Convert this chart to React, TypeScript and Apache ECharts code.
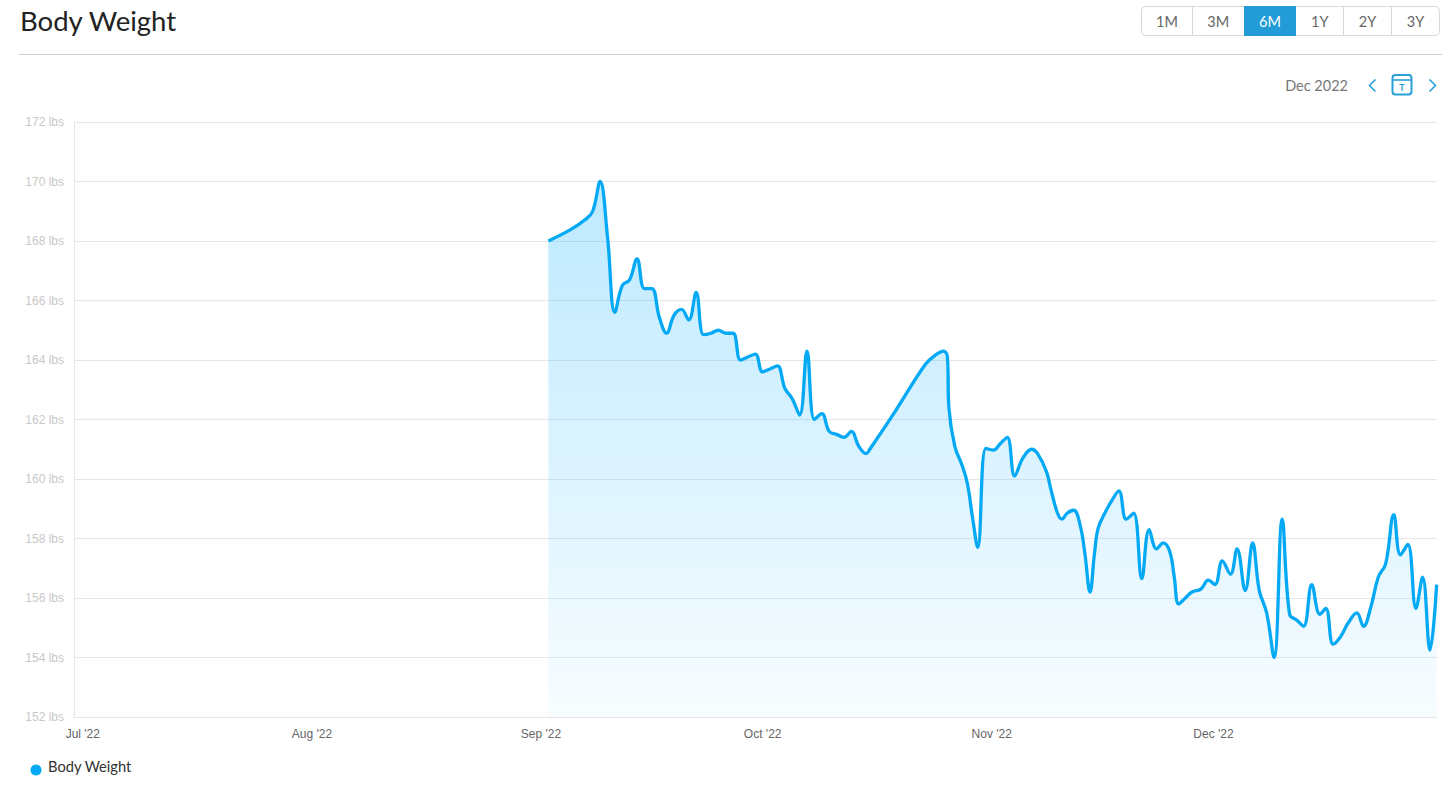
import React, { useEffect, useRef } from "react";
import * as echarts from "echarts";

const seriesName = "Body Weight";
const rangeButtons = ["1M", "3M", "6M", "1Y", "2Y", "3Y"];
const monthTickDays = [0, 31, 62, 92, 123, 153];
const monthLabels = ["Jul '22", "Aug '22", "Sep '22", "Oct '22", "Nov '22", "Dec '22"];

// days since 1 Jul 2022
const dayOffsets = [
  63, 66, 68, 69, 70, 71, 72, 73, 74, 75, 76, 77, 78, 79, 80, 81, 82, 83, 84, 85, 86, 87, 88, 89, 90, 91,
  92, 93, 94, 95, 96, 97, 98, 99, 100, 101, 102, 103, 104, 105, 106, 106.5, 110, 114, 115.4, 116.5, 117, 117.2,
  118, 119, 119.7, 120.4, 121.1, 122.2, 123.2, 124.2, 125.1, 126.1, 127.2, 128.4, 129.2, 130.4, 131,
  131.9, 132.5, 133.2, 134.1, 135, 135.6, 136.3, 136.9, 137.4, 138.4, 139.3, 140.2, 141.2, 142.2,
  143.3, 144.3, 145.3, 146.2, 147.1, 147.7, 148.3, 149.2, 150.1, 151.3, 152.3, 153.2, 154.2, 155.3,
  156.2, 157.3, 158.3, 159.2, 160.2, 161.2, 162.3, 163.3, 164.3, 165.2, 166.3, 167.4, 168.2, 169.2,
  170.2, 171.2, 172.4, 173.3, 174.3, 175.3, 176.3, 177.4, 178.3, 179.3, 180.4, 181.3, 182.3, 183.2,
];
const weights = [
  168.0, 168.38, 168.72, 169.0, 170.0, 168.15, 165.6, 166.5, 166.7, 167.4, 166.4, 166.4, 165.45, 164.9, 165.5,
  165.7, 165.35, 166.27, 164.85, 164.9, 165.0, 164.9, 164.9, 164.0, 164.1, 164.2, 163.6, 163.7, 163.8,
  163.05, 162.7, 162.15, 164.3, 162.0, 162.2, 161.6, 161.5, 161.4, 161.6, 161.1, 160.85, 161.0, 162.3,
  163.85, 164.17, 164.3, 164.1, 162.4, 161.1, 160.45, 159.85, 158.7, 157.7, 161.03, 160.97, 161.2, 161.4,
  160.1, 160.7, 161.0, 160.85, 160.25, 159.65, 158.85, 158.65, 158.85, 158.95, 158.4, 157.5, 156.2,
  157.5, 158.35, 158.9, 159.3, 159.6, 158.65, 158.85, 156.65, 158.3, 157.65, 157.85, 157.55, 156.7,
  155.8, 156.0, 156.2, 156.3, 156.6, 156.45, 157.25, 156.8, 157.65, 156.25, 157.85, 156.25, 155.5,
  154.0, 158.65, 155.45, 155.25, 155.05, 156.45, 155.45, 155.65, 154.45, 154.7, 155.15, 155.5, 155.05,
  155.7, 156.7, 157.15, 158.8, 157.45, 157.8, 155.65, 156.7, 154.25, 156.45,
];

const BLUE = "#03a9f4";
const ACCENT = "#2a9fd8";
const UI_FONT = "Lato";

function header(): any[] {
  const edges = [1141.5, 1192.5, 1244, 1296, 1343.5, 1391.5, 1439.5];
  const els: any[] = [
    { type: "rect", shape: { x: 1141.5, y: 6.5, width: 298, height: 29, r: 4 }, style: { fill: "#fff", stroke: "#d9d9d9", lineWidth: 1 } },
    { type: "rect", shape: { x: 1244, y: 6, width: 52, height: 30 }, style: { fill: "#229bd6" } },
  ];
  rangeButtons.forEach((label, i) => {
    if (i > 0 && i !== 2 && i !== 3) {
      els.push({ type: "line", shape: { x1: edges[i], y1: 7, x2: edges[i], y2: 35 }, style: { stroke: "#d9d9d9", lineWidth: 1 } });
    }
    els.push({
      type: "text",
      x: (edges[i] + edges[i + 1]) / 2,
      y: 21,
      style: { text: label, fill: i === 2 ? "#fff" : "#666", font: `14.5px ${UI_FONT}`, textAlign: "center", textVerticalAlign: "middle" },
    });
  });
  els.push(
    { type: "line", shape: { x1: 19, y1: 54.5, x2: 1442, y2: 54.5 }, style: { stroke: "#cfcfcf", lineWidth: 1 } },
    { type: "text", x: 1348, y: 85, style: { text: "Dec 2022", fill: "#777", font: `14.5px ${UI_FONT}`, textAlign: "right", textVerticalAlign: "middle" } },
    { type: "polyline", shape: { points: [[1375.5, 79.5], [1369.5, 85.5], [1375.5, 91.5]] }, style: { fill: "none", stroke: ACCENT, lineWidth: 1.6 } },
    { type: "polyline", shape: { points: [[1429.5, 79.5], [1435.5, 85.5], [1429.5, 91.5]] }, style: { fill: "none", stroke: ACCENT, lineWidth: 1.6 } },
    { type: "rect", shape: { x: 1392.5, y: 75, width: 19, height: 19.5, r: 3 }, style: { fill: "none", stroke: ACCENT, lineWidth: 2 } },
    { type: "line", shape: { x1: 1392.5, y1: 80, x2: 1411.5, y2: 80 }, style: { stroke: ACCENT, lineWidth: 1.6 } },
    { type: "text", x: 1402, y: 87.5, style: { text: "T", fill: ACCENT, font: `bold 9px ${UI_FONT}`, textAlign: "center", textVerticalAlign: "middle" } },
    { type: "circle", shape: { cx: 36, cy: 770, r: 5.5 }, style: { fill: BLUE } },
  );
  return els;
}

export default function App() {
  const ref = useRef<HTMLDivElement>(null);
  useEffect(() => {
    document.body.style.margin = "0";
    const chart = echarts.init(ref.current!, undefined, { renderer: "svg" });
    chart.setOption({
      animation: false,
      backgroundColor: "#fff",
      title: {
        text: seriesName,
        left: 20,
        top: 6,
        padding: 0,
        textStyle: { fontFamily: UI_FONT, fontSize: 27.5, fontWeight: 400, color: "#222" },
      },
      legend: {
        show: true,
        left: 30,
        top: 758,
        padding: 0,
        icon: "circle",
        itemWidth: 12,
        itemHeight: 12,
        itemGap: 6,
        itemStyle: { color: "transparent" },
        textStyle: { fontFamily: UI_FONT, fontSize: 14.7, color: "#333", padding: [0, 0, 0, 1] },
      },
      grid: { left: 74, right: 8, top: 122, bottom: 81 },
      xAxis: {
        type: "value",
        min: -1.19,
        max: 183.25,
        axisLine: { show: true, onZero: false, lineStyle: { color: "#e6e6e6", width: 1 } },
        axisTick: { show: false },
        splitLine: { show: false },
        axisLabel: {
          customValues: monthTickDays,
          formatter: (v: number) => monthLabels[monthTickDays.indexOf(Math.round(v))],
          fontFamily: "Liberation Sans",
          fontSize: 12,
          color: "#666",
          margin: 11,
          hideOverlap: false,
        },
      },
      yAxis: {
        type: "value",
        min: 152,
        max: 172,
        interval: 2,
        axisLine: { show: true, onZero: false, lineStyle: { color: "#e6e6e6", width: 1 } },
        axisTick: { show: false },
        splitLine: { show: true, lineStyle: { color: "#e6e6e6", width: 1 } },
        axisLabel: {
          formatter: "{value} lbs",
          fontFamily: "Liberation Sans",
          fontSize: 12,
          color: "#c8c8c8",
          margin: 10,
        },
      },
      series: [
        {
          name: seriesName,
          type: "line",
          showSymbol: false,
          smooth: 0.4,
          itemStyle: { color: BLUE },
          lineStyle: { color: BLUE, width: 3.3 },
          areaStyle: {
            opacity: 1,
            color: new echarts.graphic.LinearGradient(0, 0, 0, 1, [
              { offset: 0, color: "rgba(10,175,255,0.27)" },
              { offset: 1, color: "rgba(10,175,255,0.03)" },
            ]),
          },
          data: dayOffsets.map((d, i) => [d, weights[i]]),
        },
      ],
      graphic: { elements: header() },
    });
    return () => chart.dispose();
  }, []);
  return <div ref={ref} style={{ width: 1445, height: 798 }} />;
}
